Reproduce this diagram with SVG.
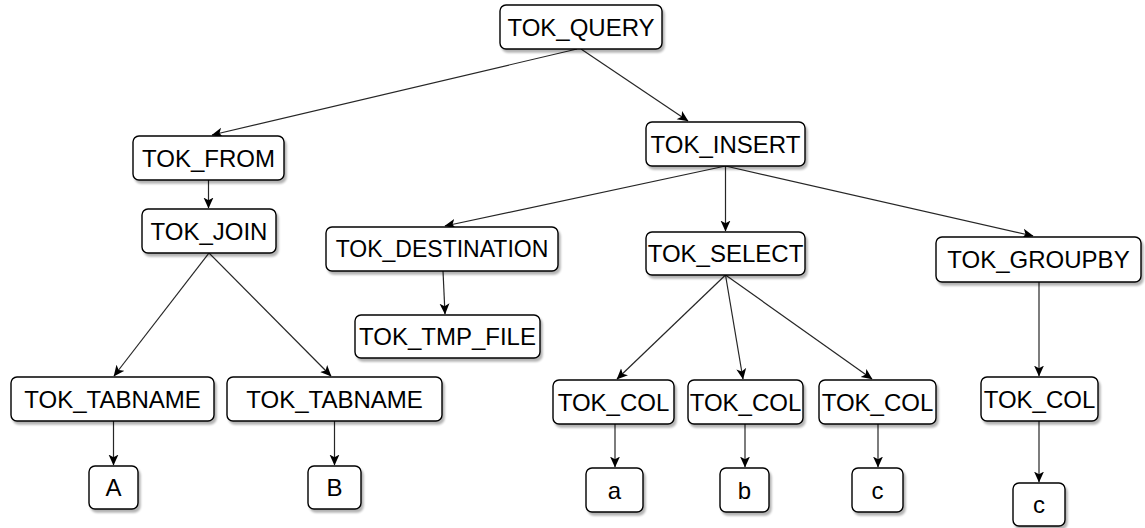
<svg xmlns="http://www.w3.org/2000/svg" width="1145" height="528" viewBox="0 0 1145 528">
  <style>
    .box { fill: #ffffff; stroke: #000000; stroke-width: 1.4; filter: url(#shadow); }
    .lbl { font-family: "Liberation Sans", Arial, Helvetica, sans-serif; font-size: 24px; fill: #000000; text-anchor: middle; dominant-baseline: central; }
    .edge { fill: none; stroke: #262626; stroke-width: 1.2; marker-end: url(#arrow); }
  </style>
  <defs>
    <filter id="shadow" x="-10%" y="-10%" width="130%" height="140%">
      <feGaussianBlur in="SourceAlpha" stdDeviation="1"/>
      <feOffset dx="2" dy="3" result="off"/>
      <feComponentTransfer><feFuncA type="linear" slope="0.3"/></feComponentTransfer>
      <feMerge><feMergeNode/><feMergeNode in="SourceGraphic"/></feMerge>
    </filter>
    <marker id="arrow" viewBox="0 0 10 10" refX="9.5" refY="5" markerWidth="11" markerHeight="11" markerUnits="userSpaceOnUse" orient="auto">
      <path d="M0,0.5 L10,5 L0,9.5 L2.5,5 Z" fill="#000000"/>
    </marker>
  </defs>

  <!-- connectors -->
  <g id="edges">
    <line class="edge" x1="577" y1="49" x2="212" y2="135"/>
    <line class="edge" x1="581" y1="49" x2="688" y2="121"/>
    <line class="edge" x1="208.5" y1="180" x2="208.5" y2="208"/>
    <line class="edge" x1="209" y1="253" x2="114" y2="376"/>
    <line class="edge" x1="209" y1="253" x2="331" y2="376"/>
    <line class="edge" x1="725.5" y1="166" x2="445" y2="226"/>
    <line class="edge" x1="725.5" y1="166" x2="725.5" y2="231"/>
    <line class="edge" x1="725.5" y1="166" x2="1033" y2="236"/>
    <line class="edge" x1="443" y1="271" x2="445" y2="314"/>
    <line class="edge" x1="725.5" y1="275" x2="617" y2="379"/>
    <line class="edge" x1="725.5" y1="275" x2="743" y2="379"/>
    <line class="edge" x1="725.5" y1="275" x2="872" y2="379"/>
    <line class="edge" x1="1039" y1="282" x2="1039" y2="376"/>
    <line class="edge" x1="113.5" y1="421" x2="113.5" y2="465"/>
    <line class="edge" x1="334.5" y1="421" x2="334.5" y2="465"/>
    <line class="edge" x1="615" y1="424" x2="615" y2="467"/>
    <line class="edge" x1="745" y1="424" x2="745" y2="467"/>
    <line class="edge" x1="878" y1="424" x2="878" y2="467"/>
    <line class="edge" x1="1039" y1="421" x2="1039" y2="482"/>
  </g>

  <g id="tok_query"><rect class="box" x="500" y="5" width="162" height="44" rx="6"/><text class="lbl" x="581" y="27">TOK_QUERY</text></g>
  <g id="tok_from"><rect class="box" x="133" y="136" width="151" height="44" rx="6"/><text class="lbl" x="208.5" y="158">TOK_FROM</text></g>
  <g id="tok_insert"><rect class="box" x="646" y="122" width="159" height="44" rx="6"/><text class="lbl" x="725.5" y="144">TOK_INSERT</text></g>
  <g id="tok_join"><rect class="box" x="142" y="209" width="134" height="44" rx="6"/><text class="lbl" x="209" y="231">TOK_JOIN</text></g>
  <g id="tok_destination"><rect class="box" x="326" y="227" width="232" height="44" rx="6"/><text class="lbl" x="442" y="249" style="font-size:23px">TOK_DESTINATION</text></g>
  <g id="tok_select"><rect class="box" x="646" y="232" width="159" height="43" rx="6"/><text class="lbl" x="725.5" y="253.5">TOK_SELECT</text></g>
  <g id="tok_groupby"><rect class="box" x="936" y="237" width="205" height="45" rx="6"/><text class="lbl" x="1038.5" y="259.5">TOK_GROUPBY</text></g>
  <g id="tok_tmp_file"><rect class="box" x="355" y="315" width="185" height="43" rx="6"/><text class="lbl" x="447.5" y="336.5">TOK_TMP_FILE</text></g>
  <g id="tok_tabname_1"><rect class="box" x="11" y="377" width="203" height="44" rx="6"/><text class="lbl" x="112.5" y="399">TOK_TABNAME</text></g>
  <g id="tok_tabname_2"><rect class="box" x="227" y="377" width="215" height="44" rx="6"/><text class="lbl" x="334.5" y="399">TOK_TABNAME</text></g>
  <g id="tok_col_a"><rect class="box" x="553" y="380" width="121" height="44" rx="6"/><text class="lbl" x="613.5" y="402">TOK_COL</text></g>
  <g id="tok_col_b"><rect class="box" x="688" y="380" width="115" height="44" rx="6"/><text class="lbl" x="745.5" y="402">TOK_COL</text></g>
  <g id="tok_col_c"><rect class="box" x="819" y="380" width="117" height="44" rx="6"/><text class="lbl" x="877.5" y="402">TOK_COL</text></g>
  <g id="tok_col_g"><rect class="box" x="981" y="377" width="117" height="44" rx="6"/><text class="lbl" x="1039.5" y="399">TOK_COL</text></g>
  <g id="leaf_a_upper"><rect class="box" x="89" y="466" width="49" height="43" rx="6"/><text class="lbl" x="113.5" y="487.5">A</text></g>
  <g id="leaf_b_upper"><rect class="box" x="308" y="466" width="53" height="43" rx="6"/><text class="lbl" x="334.5" y="487.5">B</text></g>
  <g id="leaf_a"><rect class="box" x="586" y="468" width="57" height="44" rx="6"/><text class="lbl" x="614.5" y="490">a</text></g>
  <g id="leaf_b"><rect class="box" x="720" y="468" width="49" height="44" rx="6"/><text class="lbl" x="744.5" y="490">b</text></g>
  <g id="leaf_c"><rect class="box" x="852" y="468" width="51" height="44" rx="6"/><text class="lbl" x="877.5" y="490">c</text></g>
  <g id="leaf_c_group"><rect class="box" x="1013" y="483" width="52" height="43" rx="6"/><text class="lbl" x="1039" y="504.5">c</text></g>
</svg>
